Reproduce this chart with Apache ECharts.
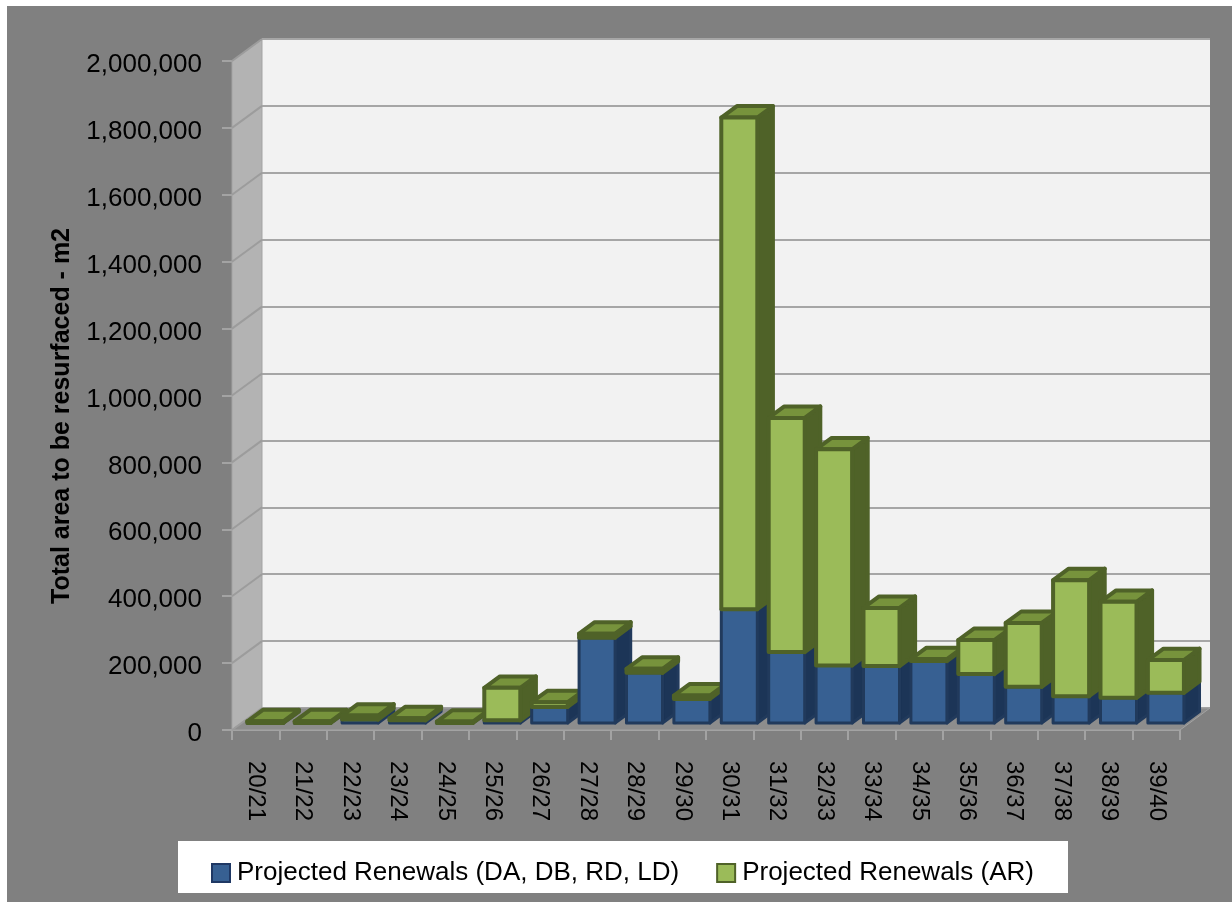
<!DOCTYPE html>
<html>
<head>
<meta charset="utf-8">
<script src="https://cdn.jsdelivr.net/npm/echarts@6/dist/echarts.min.js"></script>
<style>
  html, body { margin: 0; padding: 0; background: #ffffff; }
  #chart { width: 1232px; height: 902px; }
</style>
</head>
<body>
<div id="chart"></div>
<script>
// Financial years
const categories = ['20/21', '21/22', '22/23', '23/24', '24/25', '25/26', '26/27', '27/28', '28/29', '29/30',
                    '30/31', '31/32', '32/33', '33/34', '34/35', '35/36', '36/37', '37/38', '38/39', '39/40'];

// Area (m2) per year
const renewalsMain = [0, 0, 10000, 8000, 0, 8000, 48000, 255000, 150000, 72000,
                      340000, 212000, 172000, 170000, 185000, 146000, 108000, 80000, 75000, 90000];
const renewalsAR = [5000, 5000, 12000, 6000, 4000, 97000, 14000, 12000, 12000, 10000,
                    1470000, 700000, 646000, 174000, 6000, 102000, 191000, 347000, 287000, 98000];

// Value axis ticks
const yTicks = [0, 200000, 400000, 600000, 800000, 1000000, 1200000, 1400000, 1600000, 1800000, 2000000];

const seriesNames = ['Projected Renewals (DA, DB, RD, LD)', 'Projected Renewals (AR)'];

const FONT = '"Liberation Sans Narrow", "Arial Narrow", "Liberation Sans", Arial, sans-serif';

// Oblique depth of the floor / back wall, in pixels
const WALL = [30, -22];
// Position of the boxes inside that depth, and their width share of a category
const BAR_FRONT = 0.32, BAR_DEPTH = 0.52, BAR_WIDTH = 0.76;

const STYLE_MAIN = { front: '#376092', side: '#1c3557', top: '#2b4d77', edge: '#213a5c', lw: 3 };
const STYLE_AR   = { front: '#9bbb59', side: '#4f6228', top: '#77933c', edge: '#4f6228', lw: 4 };

// Stacked segments: [categoryIndex, bottom, top]
const mainData = categories.map((c, i) => [i, 0, renewalsMain[i]]);
const arData = categories.map((c, i) => [i, renewalsMain[i], renewalsMain[i] + renewalsAR[i]]);

function boxRenderer(st, seg) {
  return function (params, api) {
    const i = api.value(0);
    const lo = api.value(1), hi = api.value(2);
    const catW = api.size([1, 0])[0];
    const p0 = api.coord([i, lo]);
    const p1 = api.coord([i, hi]);
    const fx = WALL[0] * BAR_FRONT, fy = WALL[1] * BAR_FRONT;
    const dx = WALL[0] * BAR_DEPTH, dy = WALL[1] * BAR_DEPTH;
    const w = catW * BAR_WIDTH;
    const xl = p0[0] - w / 2 + fx, xr = xl + w;
    const yb = p0[1] + fy, yt = p1[1] + fy;
    const z = i * 10 + seg * 4;
    const common = { stroke: st.edge, lineWidth: st.lw, lineJoin: 'round' };
    return {
      type: 'group',
      children: [
        { type: 'polygon', z2: z,
          shape: { points: [[xr, yt], [xr + dx, yt + dy], [xr + dx, yb + dy], [xr, yb]] },
          style: Object.assign({ fill: st.side }, common) },
        { type: 'polygon', z2: z + 1,
          shape: { points: [[xl, yt], [xl + dx, yt + dy], [xr + dx, yt + dy], [xr, yt]] },
          style: Object.assign({ fill: st.top }, common) },
        { type: 'rect', z2: z + 2,
          shape: { x: xl, y: yt, width: w, height: yb - yt },
          style: Object.assign({ fill: st.front }, common) }
      ]
    };
  };
}

// Side wall, floor and the wall's diagonal grid lines
function wallRenderer(params, api) {
  const v = api.value(1);
  const catW = api.size([1, 0])[0];
  const p = api.coord([0, v]);
  const xl = p[0] - catW / 2;
  const children = [{
    type: 'line', z2: 5,
    shape: { x1: xl, y1: p[1], x2: xl + WALL[0], y2: p[1] + WALL[1] },
    style: { stroke: '#9c9c9c', lineWidth: 2 }
  }];
  if (params.dataIndex === 0) {
    const pTop = api.coord([0, yTicks[yTicks.length - 1]]);
    const pEnd = api.coord([categories.length - 1, 0]);
    const xr = pEnd[0] + catW / 2;
    children.push({
      type: 'polygon', z2: 1,
      shape: { points: [[xl, pTop[1]], [xl + WALL[0], pTop[1] + WALL[1]], [xl + WALL[0], p[1] + WALL[1]], [xl, p[1]]] },
      style: { fill: '#b3b3b3', stroke: '#a3a3a3', lineWidth: 1 }
    });
    children.push({
      type: 'polygon', z2: 1,
      shape: { points: [[xl, p[1]], [xl + WALL[0], p[1] + WALL[1]], [xr + WALL[0], p[1] + WALL[1]], [xr, p[1]]] },
      style: { fill: '#8d8d8d', stroke: '#a3a3a3', lineWidth: 1 }
    });
  }
  return { type: 'group', children: children };
}

const chart = echarts.init(document.getElementById('chart'), null, { renderer: 'canvas' });

chart.setOption({
  backgroundColor: '#808080',
  animation: false,
  graphic: [
    { type: 'rect', left: 0, top: 0, shape: { width: 1232, height: 6 }, style: { fill: '#ffffff' }, z: 0 },
    { type: 'rect', left: 0, top: 0, shape: { width: 7, height: 902 }, style: { fill: '#ffffff' }, z: 0 },
    { type: 'rect', x: 178, y: 841, shape: { width: 890, height: 52 }, style: { fill: '#ffffff' }, z: 0 },
    { type: 'text', x: 62, y: 416, rotation: Math.PI / 2, z: 5,
      style: { text: 'Total area to be resurfaced - m2', fill: '#000000', fontSize: 25, fontWeight: 'bold',
               fontFamily: FONT, align: 'center', verticalAlign: 'middle' } }
  ],
  grid: [
    { left: 232, right: 52, top: 61, bottom: 172, show: false },
    { left: 262, right: 22, top: 39, bottom: 194, show: true, backgroundColor: '#f2f2f2', borderWidth: 0 }
  ],
  xAxis: [
    { type: 'category', gridIndex: 0, data: categories, boundaryGap: true,
      axisLine: { show: true, lineStyle: { color: '#a3a3a3', width: 2 } },
      axisTick: { show: true, length: 10, interval: 0, lineStyle: { color: '#a3a3a3', width: 2 } },
      axisLabel: { rotate: -90, interval: 0, margin: 31, color: '#000000', fontSize: 24, fontFamily: FONT },
      splitLine: { show: false } },
    { type: 'category', gridIndex: 1, data: categories, show: false }
  ],
  yAxis: [
    { type: 'value', gridIndex: 0, min: 0, max: 2000000, interval: 200000,
      axisLine: { show: false },
      axisTick: { show: true, length: 10, lineStyle: { color: '#a3a3a3', width: 2 } },
      axisLabel: { margin: 30, color: '#000000', fontSize: 26, fontFamily: FONT,
                   formatter: v => '{v|' + v.toLocaleString('en-US') + '}',
                   rich: { v: { fontSize: 26, fontFamily: FONT, color: '#000000', padding: [8, 0, 0, 0] } } },
      splitLine: { show: false } },
    { type: 'value', gridIndex: 1, min: 0, max: 2000000, interval: 200000,
      axisLine: { show: false }, axisTick: { show: false }, axisLabel: { show: false },
      splitLine: { show: true, lineStyle: { color: '#a6a6a6', width: 2 } } }
  ],
  legend: {
    left: 211, top: 860, padding: 0,
    itemWidth: 18, itemHeight: 18, itemGap: 37,
    icon: 'rect',
    textStyle: { color: '#000000', fontSize: 26, fontFamily: FONT, padding: [0, 0, 0, 2] },
    data: [
      { name: seriesNames[0], itemStyle: { color: '#376092', borderColor: '#1f3864', borderWidth: 2 } },
      { name: seriesNames[1], itemStyle: { color: '#9bbb59', borderColor: '#4f6228', borderWidth: 2 } }
    ]
  },
  series: [
    { type: 'custom', name: 'walls', xAxisIndex: 0, yAxisIndex: 0, z: 1, silent: true,
      data: yTicks.map(v => [0, v]), encode: { x: 0, y: 1 }, renderItem: wallRenderer },
    { type: 'custom', name: seriesNames[0], xAxisIndex: 0, yAxisIndex: 0, z: 2,
      itemStyle: { color: '#376092' },
      data: mainData, encode: { x: 0, y: [1, 2] }, renderItem: boxRenderer(STYLE_MAIN, 0) },
    { type: 'custom', name: seriesNames[1], xAxisIndex: 0, yAxisIndex: 0, z: 2,
      itemStyle: { color: '#9bbb59' },
      data: arData, encode: { x: 0, y: [1, 2] }, renderItem: boxRenderer(STYLE_AR, 1) }
  ]
});
</script>
</body>
</html>
